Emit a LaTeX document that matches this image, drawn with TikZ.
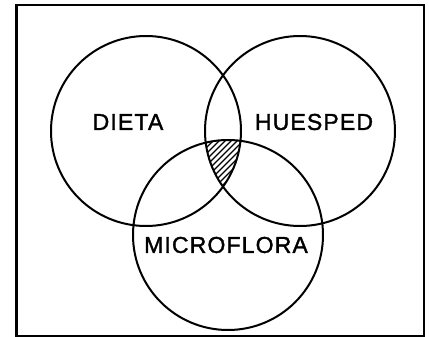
\documentclass[tikz,border=0pt]{standalone}
\usepackage{fontspec}
\newfontfamily\vennfont[LetterSpace=5,FakeBold=1.5]{Liberation Sans}
\usetikzlibrary{positioning,calc}

\begin{document}
\begin{tikzpicture}[x=1pt, y=-1pt,
  ring/.style={draw, circle, minimum size=190pt, inner sep=0pt, line width=2pt},
  lbl/.style={font={\vennfont\fontsize{23}{26}\selectfont}, inner sep=0pt},
  hatch/.style={line width=1.3pt},
]
  \useasboundingbox (0,0) rectangle (429,337);
  \draw[line width=2.4pt] (16.5,5) rectangle (424,336);

  \node[ring] (dieta)      at (146,131) {};
  \node[ring] (huesped)    at (300,131) {};
  \node[ring] (microflora) at (228,235) {};

  % shaded common part
  \begin{scope}
    \clip (dieta.center) circle[radius=95pt];
    \clip (huesped.center) circle[radius=95pt];
    \clip (microflora.center) circle[radius=95pt];
    \foreach \i in {-70,-64,...,70}
      \draw[hatch] ($(223,165)+(\i-60,60)$) -- ++(120,-120);
  \end{scope}

  \node[lbl] (tdieta)      at (128,122) {DIETA};
  \node[lbl] (thuesped)    at (314,122) {HUESPED};
  \node[lbl] (tmicroflora) at (226,245) {MICROFLORA};
\end{tikzpicture}
\end{document}
